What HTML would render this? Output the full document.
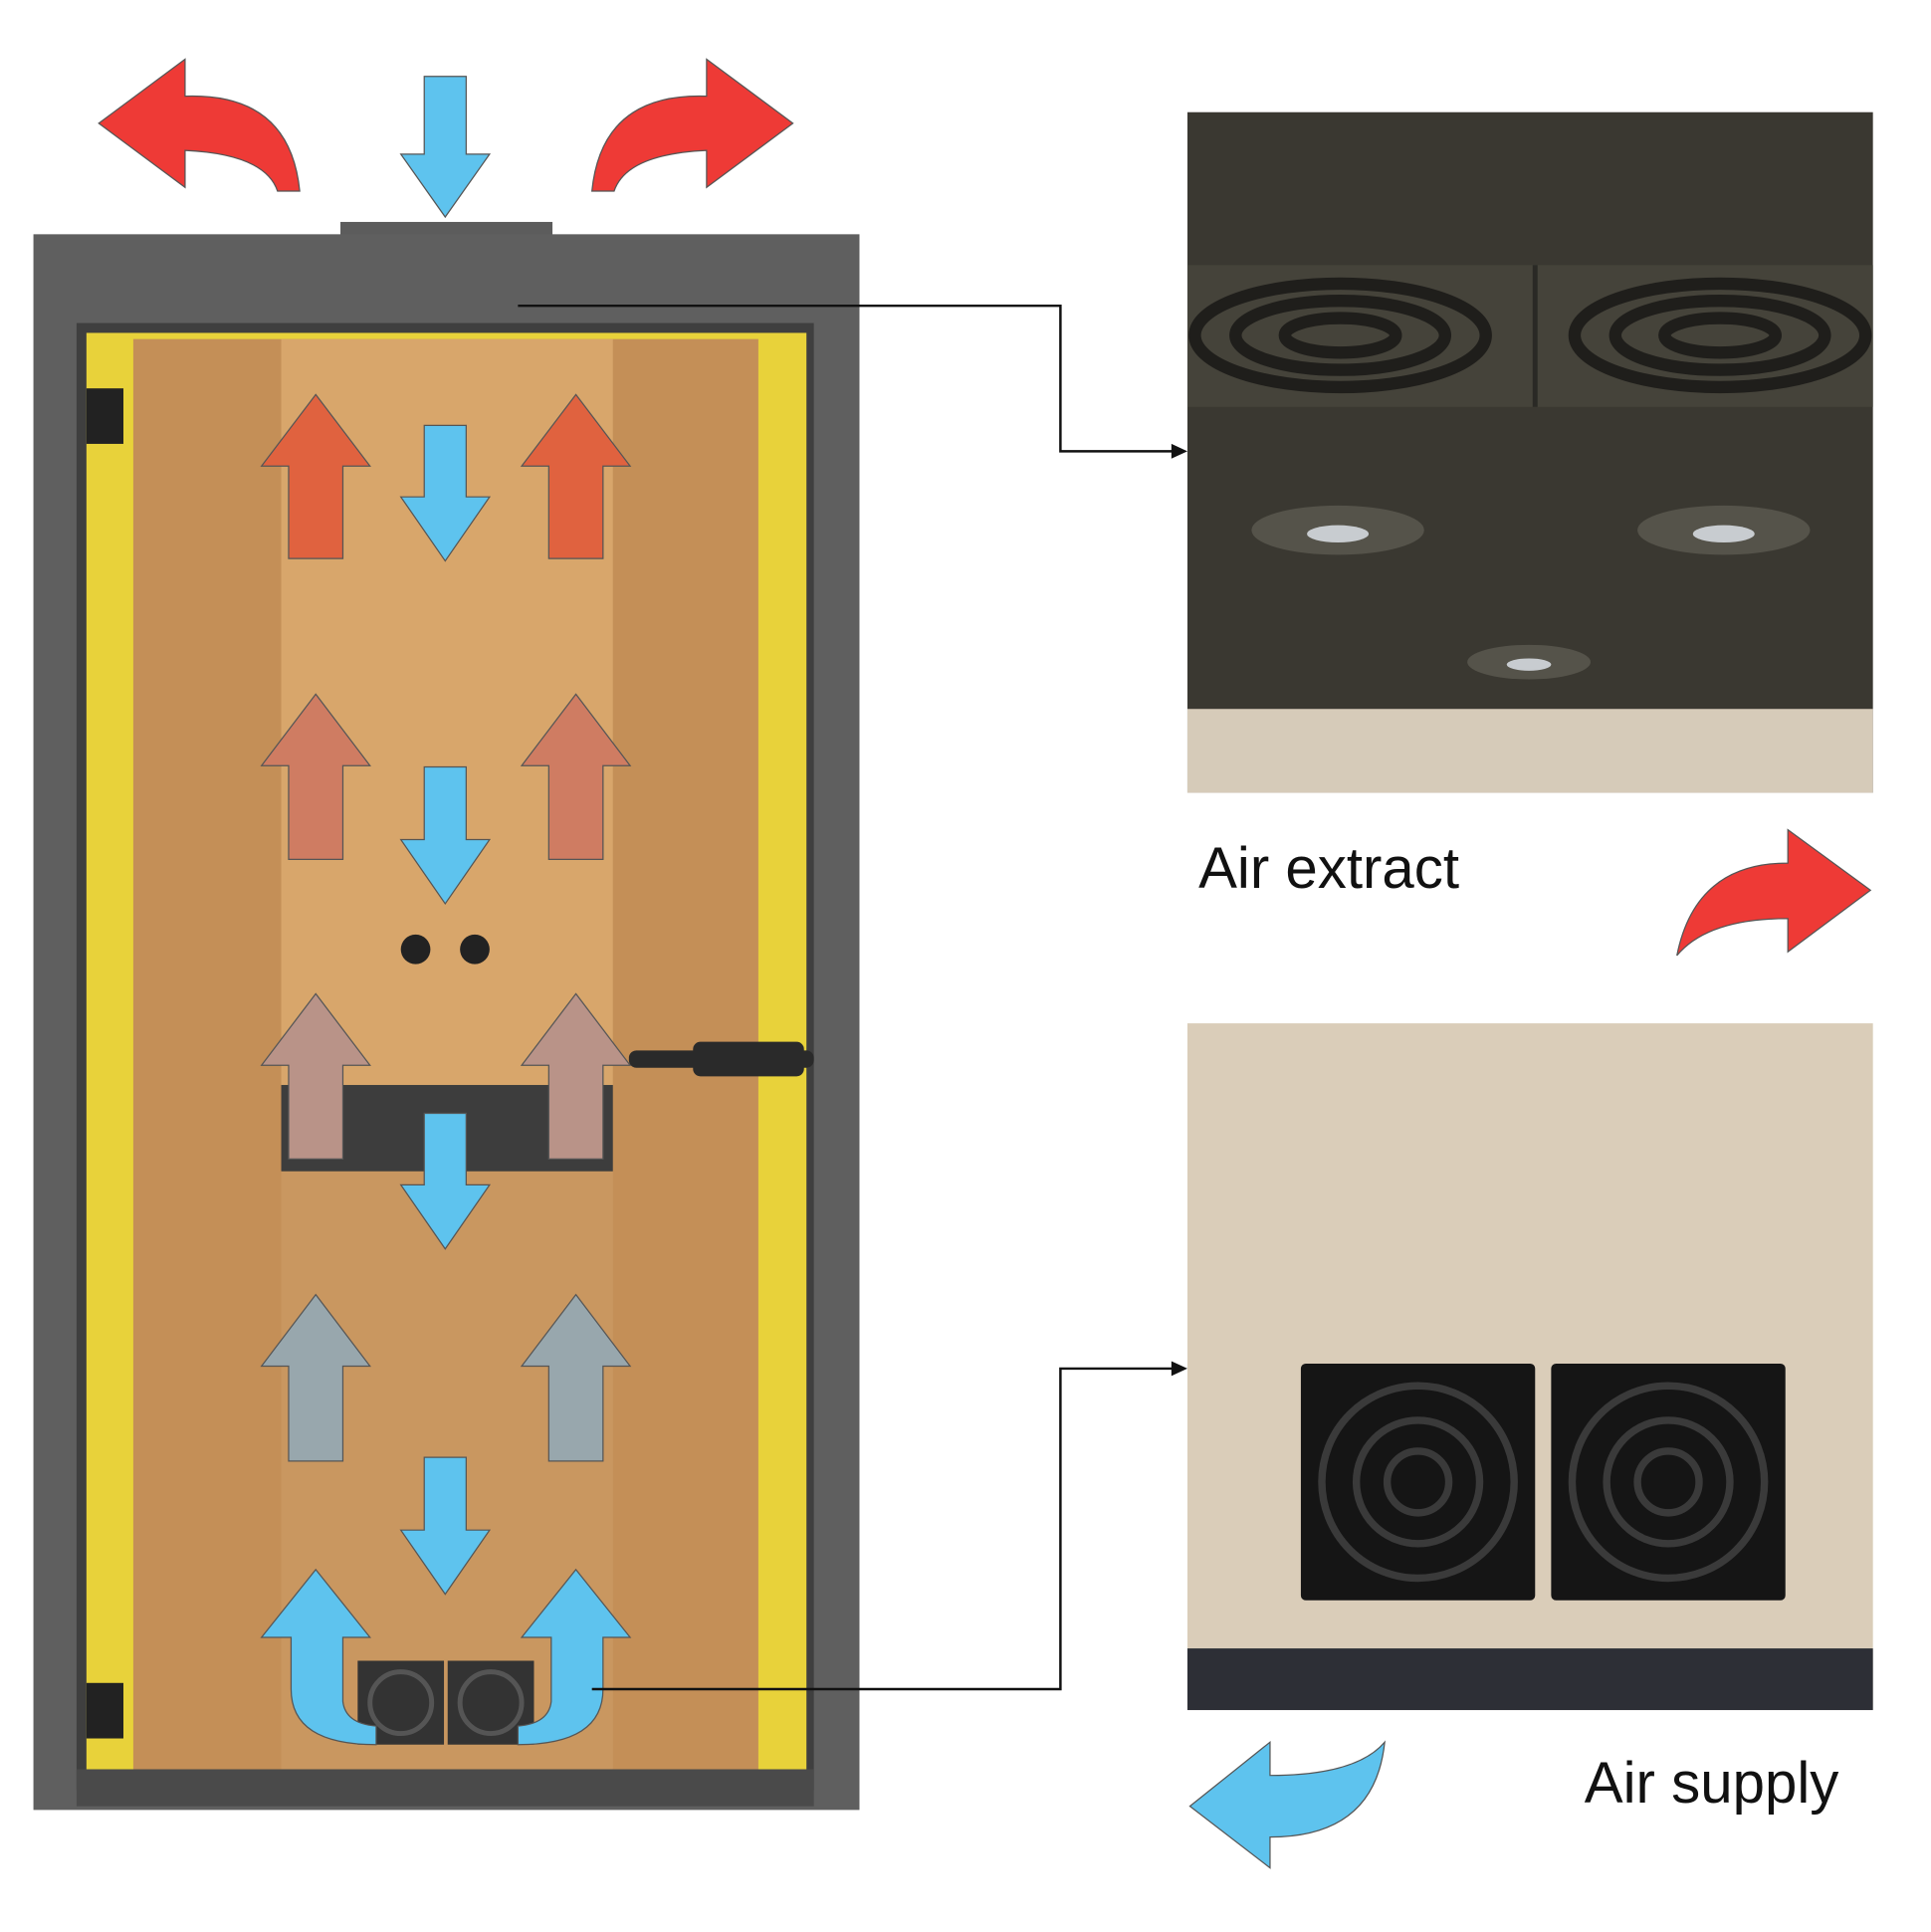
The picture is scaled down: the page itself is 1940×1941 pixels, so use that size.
<!DOCTYPE html>
<html><head><meta charset="utf-8"><style>html,body{margin:0;padding:0;background:#fff}svg{display:block}</style></head>
<body>
<svg width="1940" height="1941" viewBox="0 0 1566 1567" xmlns="http://www.w3.org/2000/svg">
<rect width="1566" height="1567" fill="#fff"/>
<rect x="276" y="180" width="172" height="12" fill="#5c5c5c"/>
<rect x="27" y="190" width="670" height="1278" fill="#5f5f5f"/>
<rect x="62" y="262" width="598" height="1190" fill="#3f3f3f"/>
<rect x="70" y="270" width="584" height="1168" fill="#e8d23a"/>
<rect x="108" y="275" width="507" height="1160" fill="#c48f57"/>
<rect x="228" y="275" width="269" height="605" fill="#d8a66b"/>
<rect x="228" y="950" width="269" height="485" fill="#c99760"/>
<rect x="62" y="1435" width="598" height="30" fill="#4a4a4a"/>
<rect x="228" y="880" width="269" height="70" fill="#3d3d3d"/>
<rect x="70" y="315" width="30" height="45" fill="#222"/>
<rect x="70" y="1365" width="30" height="45" fill="#222"/>
<rect x="510" y="852" width="150" height="14" rx="6" fill="#2a2a2a"/>
<rect x="562" y="845" width="90" height="28" rx="6" fill="#2a2a2a"/>
<circle cx="337" cy="770" r="12" fill="#222"/>
<circle cx="385" cy="770" r="12" fill="#222"/>
<rect x="290" y="1347" width="70" height="68" fill="#333"/>
<rect x="363" y="1347" width="70" height="68" fill="#333"/>
<circle cx="325" cy="1381" r="25" fill="none" stroke="#555" stroke-width="4"/>
<circle cx="398" cy="1381" r="25" fill="none" stroke="#555" stroke-width="4"/>
<g stroke="#555" stroke-width="1">
<polygon fill="#5ec3ee" points="344,62 378,62 378,125 397,125 361,176 325,125 344,125"/>
<polygon fill="#5ec3ee" points="344,345 378,345 378,403 397,403 361,455 325,403 344,403"/>
<polygon fill="#5ec3ee" points="344,622 378,622 378,681 397,681 361,733 325,681 344,681"/>
<polygon fill="#5ec3ee" points="344,903 378,903 378,961 397,961 361,1013 325,961 344,961"/>
<polygon fill="#5ec3ee" points="344,1182 378,1182 378,1241 397,1241 361,1293 325,1241 344,1241"/>
<polygon fill="#e0623f" points="256,320 300,378 278,378 278,453 234,453 234,378 212,378"/>
<polygon fill="#e0623f" points="467,320 511,378 489,378 489,453 445,453 445,378 423,378"/>
<polygon fill="#cf7c62" points="256,563 300,621 278,621 278,697 234,697 234,621 212,621"/>
<polygon fill="#cf7c62" points="467,563 511,621 489,621 489,697 445,697 445,621 423,621"/>
<polygon fill="#b99388" points="256,806 300,864 278,864 278,940 234,940 234,864 212,864"/>
<polygon fill="#b99388" points="467,806 511,864 489,864 489,940 445,940 445,864 423,864"/>
<polygon fill="#98a7ad" points="256,1050 300,1108 278,1108 278,1185 234,1185 234,1108 212,1108"/>
<polygon fill="#98a7ad" points="467,1050 511,1108 489,1108 489,1185 445,1185 445,1108 423,1108"/>
<path fill="#5ec3ee" d="M256,1273 L300,1328 L278,1328 L278,1380 Q280,1398 305,1400 L305,1415 Q236,1415 236,1370 L236,1328 L212,1328 Z"/>
<path fill="#5ec3ee" d="M467,1273 L511,1328 L489,1328 L489,1370 Q489,1415 420,1415 L420,1400 Q445,1398 447,1380 L447,1328 L423,1328 Z"/>
<path fill="#ee3a36" d="M80,100 L150,48 L150,78 Q235,75 243,155 L225,155 Q215,125 150,122 L150,152 Z"/>
<path fill="#ee3a36" d="M643,100 L573,48 L573,78 Q488,75 480,155 L498,155 Q508,125 573,122 L573,152 Z"/>
<path fill="#ee3a36" d="M1517,722 L1450,673 L1450,700 Q1375,700 1360,775 Q1385,745 1450,745 L1450,772 Z"/>
<path fill="#5ec3ee" d="M965,1465 L1030,1413 L1030,1440 Q1100,1440 1123,1413 Q1115,1490 1030,1490 L1030,1515 Z"/>
</g>
<rect x="963" y="91" width="556" height="552" fill="#3a3831"/>
<rect x="963" y="215" width="556" height="115" fill="#45433a"/>
<line x1="1245" y1="215" x2="1245" y2="330" stroke="#2a2925" stroke-width="4"/>
<g fill="none" stroke="#1f1e1b" stroke-width="10">
<ellipse cx="1087" cy="272" rx="118" ry="42"/><ellipse cx="1087" cy="272" rx="85" ry="28"/><ellipse cx="1087" cy="272" rx="45" ry="14"/>
<ellipse cx="1395" cy="272" rx="118" ry="42"/><ellipse cx="1395" cy="272" rx="85" ry="28"/><ellipse cx="1395" cy="272" rx="45" ry="14"/>
</g>
<ellipse cx="1085" cy="430" rx="70" ry="20" fill="#55534a"/><ellipse cx="1085" cy="433" rx="25" ry="7" fill="#c8ccd0"/>
<ellipse cx="1398" cy="430" rx="70" ry="20" fill="#55534a"/><ellipse cx="1398" cy="433" rx="25" ry="7" fill="#c8ccd0"/>
<ellipse cx="1240" cy="537" rx="50" ry="14" fill="#55534a"/><ellipse cx="1240" cy="539" rx="18" ry="5" fill="#c8ccd0"/>
<rect x="963" y="575" width="556" height="68" fill="#d6cbb9"/>
<rect x="963" y="830" width="556" height="557" fill="#dacdb9"/>
<rect x="963" y="1337" width="556" height="50" fill="#2d2f36"/>
<rect x="1055" y="1106" width="190" height="192" rx="4" fill="#151515"/>
<rect x="1258" y="1106" width="190" height="192" rx="4" fill="#151515"/>
<g fill="none" stroke="#3a3a3a" stroke-width="6">
<circle cx="1150" cy="1202" r="78"/><circle cx="1150" cy="1202" r="50"/><circle cx="1150" cy="1202" r="25"/>
<circle cx="1353" cy="1202" r="78"/><circle cx="1353" cy="1202" r="50"/><circle cx="1353" cy="1202" r="25"/>
</g>
<g stroke="#111" stroke-width="2" fill="none">
<polyline points="420,248 860,248 860,366 952,366"/>
<polyline points="480,1370 860,1370 860,1110 952,1110"/>
</g>
<polygon points="963,366 950,360 950,372" fill="#111"/>
<polygon points="963,1110 950,1104 950,1116" fill="#111"/>
<text x="972" y="720" font-family="Liberation Sans, sans-serif" font-size="47" fill="#111">Air extract</text>
<text x="1285" y="1462" font-family="Liberation Sans, sans-serif" font-size="47" fill="#111">Air supply</text>
</svg>
</body></html>
